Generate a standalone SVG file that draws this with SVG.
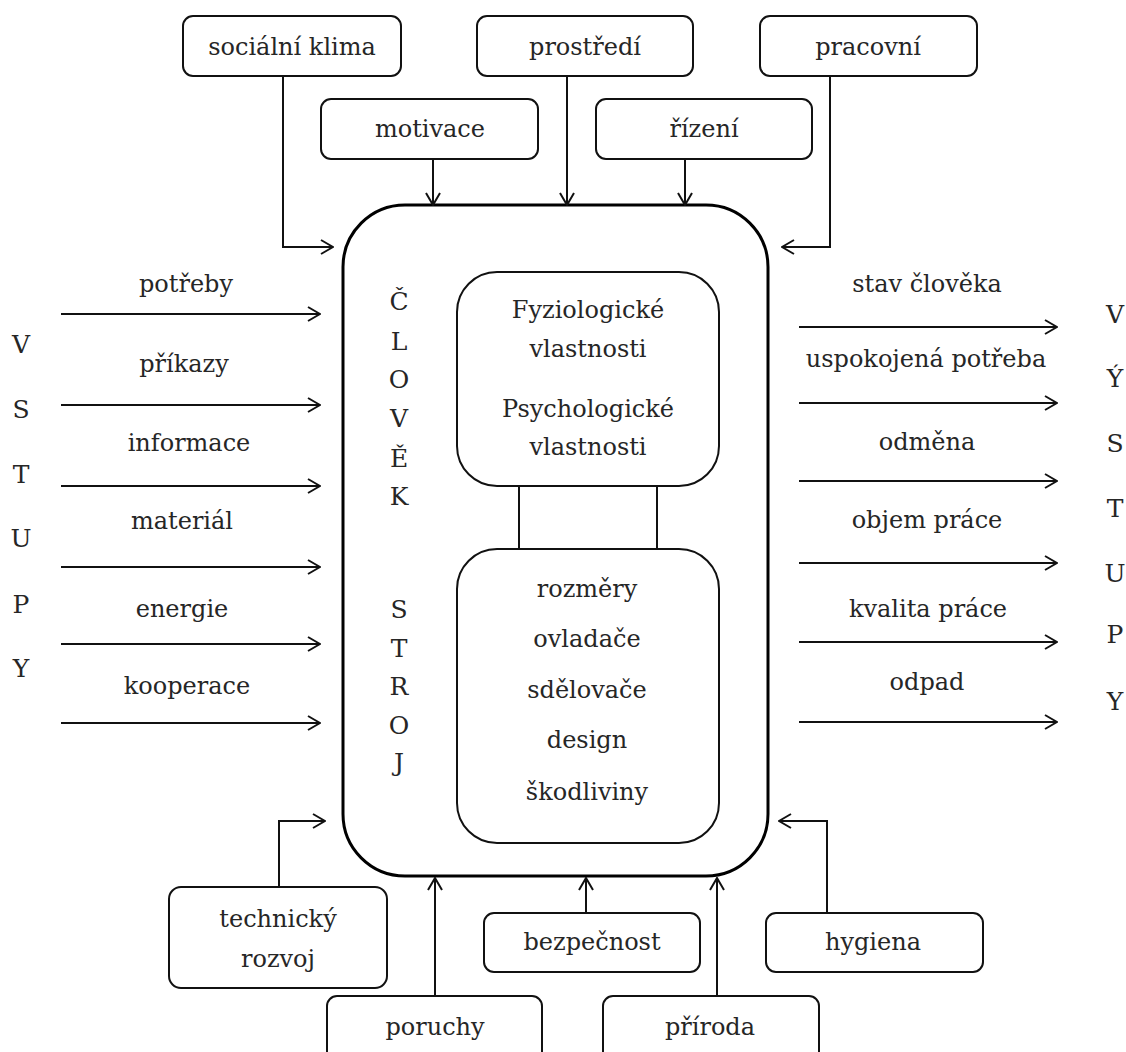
<svg xmlns="http://www.w3.org/2000/svg" width="1126" height="1052" viewBox="0 0 1126 1052">
<defs>
<style>
text{font-family:'DejaVu Serif',serif;font-size:24px;fill:#262626;text-anchor:middle}
.let{font-size:25px}
.box{fill:#fff;stroke:#111;stroke-width:2}
.main{fill:#fff;stroke:#000;stroke-width:3}
.con{fill:none;stroke:#111;stroke-width:2;marker-end:url(#arr)}
.plain{fill:none;stroke:#111;stroke-width:2}
</style>
<marker id="arr" viewBox="0 0 14 16" refX="13" refY="8" markerWidth="14" markerHeight="16" markerUnits="userSpaceOnUse" orient="auto">
<path d="M1,1 L13,8 L1,15" fill="none" stroke="#111" stroke-width="2"/>
</marker>
</defs>
<rect width="1126" height="1052" fill="#fff"/>

<g id="main">
<rect class="main" x="343" y="205" width="425" height="671" rx="62"/>
<text class="let" x="399" y="310">Č</text>
<text class="let" x="399" y="350">L</text>
<text class="let" x="399" y="388">O</text>
<text class="let" x="399" y="427">V</text>
<text class="let" x="399" y="467">Ě</text>
<text class="let" x="399" y="505">K</text>
<text class="let" x="399" y="618">S</text>
<text class="let" x="399" y="657">T</text>
<text class="let" x="399" y="695">R</text>
<text class="let" x="399" y="734">O</text>
<text class="let" x="399" y="771">J</text>
</g>

<g id="human">
<rect class="box" x="457" y="272" width="262" height="214" rx="40"/>
<text x="588" y="318">Fyziologické</text>
<text x="588" y="357">vlastnosti</text>
<text x="588" y="417">Psychologické</text>
<text x="588" y="455">vlastnosti</text>
</g>

<g id="machine">
<rect class="box" x="457" y="549" width="262" height="294" rx="40"/>
<text x="587" y="597">rozměry</text>
<text x="587" y="647">ovladače</text>
<text x="587" y="698">sdělovače</text>
<text x="587" y="748">design</text>
<text x="587" y="800">škodliviny</text>
</g>

<g id="n-socialni"><rect class="box" x="183" y="16" width="218" height="60" rx="10"/><text x="292" y="55">sociální klima</text></g>
<g id="n-prostredi"><rect class="box" x="477" y="16" width="216" height="60" rx="10"/><text x="585" y="55">prostředí</text></g>
<g id="n-pracovni"><rect class="box" x="760" y="16" width="217" height="60" rx="10"/><text x="868" y="55">pracovní</text></g>
<g id="n-motivace"><rect class="box" x="321" y="99" width="217" height="60" rx="10"/><text x="430" y="137">motivace</text></g>
<g id="n-rizeni"><rect class="box" x="596" y="99" width="216" height="60" rx="10"/><text x="704" y="137">řízení</text></g>

<g id="n-technicky"><rect class="box" x="169" y="887" width="218" height="101" rx="12"/><text x="278" y="927">technický</text><text x="278" y="967">rozvoj</text></g>
<g id="n-poruchy"><rect class="box" x="327" y="996" width="215" height="70" rx="10"/><text x="435" y="1035">poruchy</text></g>
<g id="n-bezpecnost"><rect class="box" x="484" y="913" width="216" height="59" rx="10"/><text x="592" y="950">bezpečnost</text></g>
<g id="n-priroda"><rect class="box" x="603" y="996" width="216" height="70" rx="10"/><text x="710" y="1035">příroda</text></g>
<g id="n-hygiena"><rect class="box" x="766" y="913" width="217" height="59" rx="10"/><text x="873" y="950">hygiena</text></g>

<g id="inputs">
<text class="let" x="21" y="353">V</text>
<text class="let" x="21" y="418">S</text>
<text class="let" x="21" y="483">T</text>
<text class="let" x="21" y="547">U</text>
<text class="let" x="21" y="613">P</text>
<text class="let" x="21" y="677">Y</text>
<text x="186" y="292">potřeby</text>
<text x="184" y="372">příkazy</text>
<text x="189" y="451">informace</text>
<text x="182" y="529">materiál</text>
<text x="182" y="617">energie</text>
<text x="187" y="694">kooperace</text>
</g>

<g id="outputs">
<text class="let" x="1115" y="323">V</text>
<text class="let" x="1115" y="387">Ý</text>
<text class="let" x="1115" y="452">S</text>
<text class="let" x="1115" y="517">T</text>
<text class="let" x="1115" y="582">U</text>
<text class="let" x="1115" y="643">P</text>
<text class="let" x="1115" y="710">Y</text>
<text x="927" y="292">stav člověka</text>
<text x="926" y="367">uspokojená potřeba</text>
<text x="927" y="450">odměna</text>
<text x="927" y="528">objem práce</text>
<text x="928" y="617">kvalita práce</text>
<text x="927" y="690">odpad</text>
</g>

<g id="connectors">
<path class="con" d="M283,76 V247 H333"/>
<path class="con" d="M433,159 V205"/>
<path class="con" d="M567,76 V205"/>
<path class="con" d="M685,159 V205"/>
<path class="con" d="M830,76 V247 H782"/>
<path class="con" d="M61,314 H320"/>
<path class="con" d="M61,405 H320"/>
<path class="con" d="M61,486 H320"/>
<path class="con" d="M61,567 H320"/>
<path class="con" d="M61,644 H320"/>
<path class="con" d="M61,723 H320"/>
<path class="con" d="M799,327 H1057"/>
<path class="con" d="M799,403 H1057"/>
<path class="con" d="M799,481 H1057"/>
<path class="con" d="M799,563 H1057"/>
<path class="con" d="M799,642 H1057"/>
<path class="con" d="M799,722 H1057"/>
<path class="con" d="M279,887 V821 H325"/>
<path class="con" d="M435,996 V878"/>
<path class="con" d="M586,913 V878"/>
<path class="con" d="M717,996 V878"/>
<path class="con" d="M827,913 V821 H779"/>
<path class="plain" d="M519,486 V549 M657,486 V549"/>
</g>
</svg>
